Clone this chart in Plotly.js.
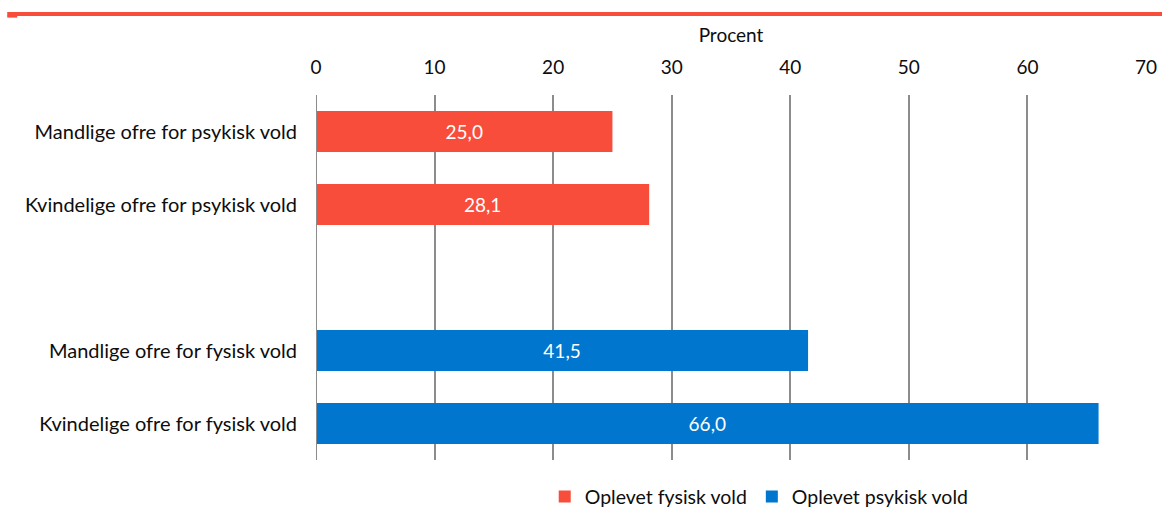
<!DOCTYPE html>
<html>
<head>
<meta charset="utf-8">
<script src="https://cdn.plot.ly/plotly-3.0.1.min.js"></script>
<style>html,body{margin:0;padding:0;background:#fff;}#chart{width:1162px;height:509px;}</style>
</head>
<body>
<div id="chart"></div>
<script>
// Data
var categories = ["Mandlige ofre for psykisk vold", "Kvindelige ofre for psykisk vold", " ", "Mandlige ofre for fysisk vold", "Kvindelige ofre for fysisk vold"];
var redCategories = ["Mandlige ofre for psykisk vold", "Kvindelige ofre for psykisk vold", " "];
var redValues = [25.0, 28.1, null];
var blueCategories = ["Mandlige ofre for fysisk vold", "Kvindelige ofre for fysisk vold"];
var blueValues = [41.5, 66.0];
var seriesNames = ["Oplevet fysisk vold", "Oplevet psykisk vold"];
var xTicks = [0, 10, 20, 30, 40, 50, 60, 70];

function fmt(v){ return v === null ? "" : v.toFixed(1).replace(".", ","); }

var FONT = "Lato, 'Open Sans', sans-serif";
var RED = "#F94D3C", BLUE = "#0076CE";

var traces = [
  {type:"bar", orientation:"h", name:seriesNames[0], y:redCategories, x:redValues,
   marker:{color:RED}, width:0.56, text:redValues.map(fmt), textposition:"inside",
   insidetextanchor:"middle", textfont:{color:"#fff", size:19, family:FONT}, hoverinfo:"x+y"},
  {type:"bar", orientation:"h", name:seriesNames[1], y:blueCategories, x:blueValues,
   marker:{color:BLUE}, width:0.56, text:blueValues.map(fmt), textposition:"inside",
   insidetextanchor:"middle", textfont:{color:"#fff", size:19, family:FONT}, hoverinfo:"x+y"}
];

var layout = {
  width:1162, height:509,
  margin:{l:316, r:16, t:95, b:49, autoexpand:false},
  paper_bgcolor:"#fff", plot_bgcolor:"#fff",
  font:{family:FONT, size:20, color:"#0d0d0d"},
  barmode:"overlay",
  showlegend:true,
  legend:{orientation:"h", x:0.534, xanchor:"center", yref:"container", y:0.024, yanchor:"middle",
          font:{size:19.5, family:FONT, color:"#0d0d0d"}, traceorder:"normal"},
  xaxis:{side:"top", range:[0,70], tickvals:xTicks, ticktext:xTicks.map(String),
         showgrid:true, gridcolor:"#8c8c8c", gridwidth:2, zeroline:false, showline:false,
         ticks:"", ticklabelstandoff:16, tickfont:{size:19},
         title:{text:"Procent", font:{size:19, family:FONT, color:"#0d0d0d"}, standoff:7},
         fixedrange:true},
  yaxis:{type:"category", categoryorder:"array", categoryarray:categories,
         range:[4.5,-0.5], showgrid:false, zeroline:false, showline:false, ticks:"",
         ticklabelstandoff:18, tickfont:{size:20}, fixedrange:true},
  shapes:[
    {type:"line", xref:"paper", yref:"paper", x0:-0.372, x1:1.02, y0:1.222, y1:1.222,
     line:{color:RED, width:4}},
    {type:"rect", xref:"paper", yref:"paper", x0:-0.372, x1:-0.36, y0:1.212, y1:1.218,
     line:{width:0}, fillcolor:RED},
    {type:"line", xref:"x", yref:"paper", x0:0, x1:0, y0:0, y1:1,
     line:{color:"#8c8c8c", width:2}}
  ]
};

Plotly.newPlot("chart", traces, layout, {displayModeBar:false, staticPlot:true});
</script>
</body>
</html>
